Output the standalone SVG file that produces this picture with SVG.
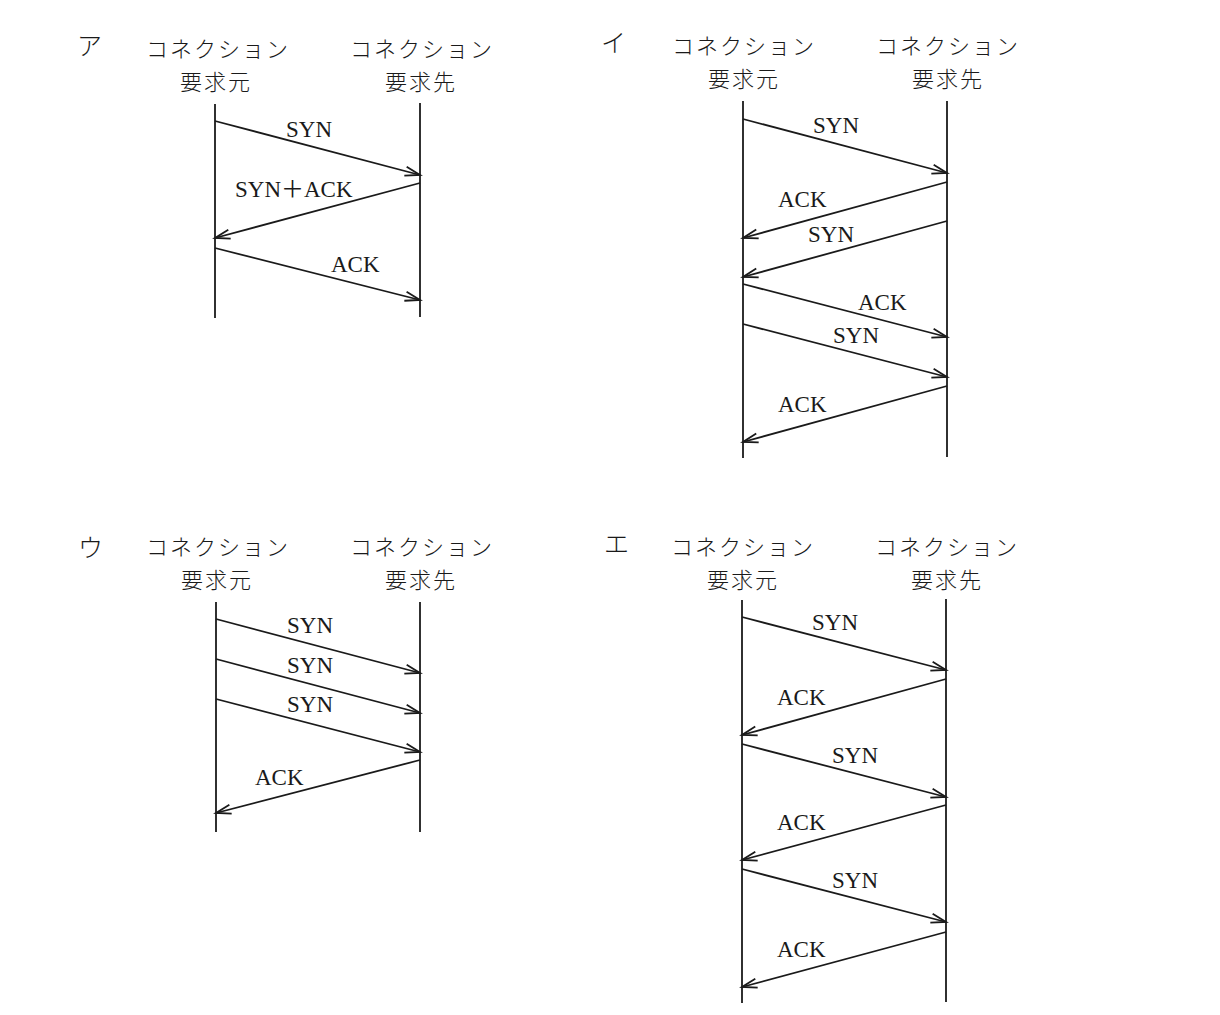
<svg xmlns="http://www.w3.org/2000/svg" width="1220" height="1015" viewBox="0 0 1220 1015">
<style>
.bg{fill:#ffffff}
.life{stroke:#1a1a1a;stroke-width:1.8;fill:none}
.msg{stroke:#1a1a1a;stroke-width:1.8;fill:none;marker-end:url(#arr)}
.hdr{font-family:"Noto Sans CJK JP","Noto Sans CJK SC",sans-serif;font-size:22px;letter-spacing:2px;fill:#1a1a1a;text-anchor:middle;font-weight:300}
.pl{font-family:"Noto Sans CJK JP","Noto Sans CJK SC",sans-serif;font-size:25px;fill:#1a1a1a;font-weight:300}
.lbl{font-family:"Liberation Serif","Noto Sans CJK JP",serif;font-size:23px;fill:#1a1a1a}
</style>
<defs>
<marker id="arr" markerUnits="userSpaceOnUse" viewBox="-17 -6 19 12" refX="0" refY="0" markerWidth="19" markerHeight="12" orient="auto" overflow="visible">
<path d="M -15 -4.6 L 0 0 L -15 4.6" fill="none" stroke="#1a1a1a" stroke-width="1.8"/>
</marker>
</defs>
<rect class="bg" x="0" y="0" width="1220" height="1015"/>

<!-- Panel ア -->
<g id="panel-a">
<text class="pl" x="77" y="55">ア</text>
<g id="a-src"><text class="hdr" x="218" y="57">コネクション</text><text class="hdr" x="216" y="90">要求元</text><line class="life" x1="215" y1="104" x2="215" y2="318"/></g>
<g id="a-dst"><text class="hdr" x="422" y="57">コネクション</text><text class="hdr" x="421" y="90">要求先</text><line class="life" x1="420" y1="103" x2="420" y2="317"/></g>
<g id="a-conn">
<line class="msg" x1="215" y1="121" x2="420" y2="175"/>
<line class="msg" x1="420" y1="183" x2="215" y2="238"/>
<line class="msg" x1="215" y1="248" x2="420" y2="300"/>
</g>
<text class="lbl" x="286" y="137">SYN</text>
<text class="lbl" x="235" y="197">SYN＋ACK</text>
<text class="lbl" x="331" y="272">ACK</text>
</g>

<!-- Panel イ -->
<g id="panel-i">
<text class="pl" x="601" y="52">イ</text>
<g id="i-src"><text class="hdr" x="744" y="54">コネクション</text><text class="hdr" x="744" y="87">要求元</text><line class="life" x1="743" y1="101" x2="743" y2="458"/></g>
<g id="i-dst"><text class="hdr" x="948" y="54">コネクション</text><text class="hdr" x="948" y="87">要求先</text><line class="life" x1="947" y1="101" x2="947" y2="457"/></g>
<g id="i-conn">
<line class="msg" x1="743" y1="119" x2="947" y2="173"/>
<line class="msg" x1="947" y1="182" x2="743" y2="238"/>
<line class="msg" x1="947" y1="221" x2="743" y2="277"/>
<line class="msg" x1="743" y1="284" x2="947" y2="337"/>
<line class="msg" x1="743" y1="324" x2="947" y2="377"/>
<line class="msg" x1="947" y1="386" x2="743" y2="442"/>
</g>
<text class="lbl" x="813" y="133">SYN</text>
<text class="lbl" x="778" y="207">ACK</text>
<text class="lbl" x="808" y="242">SYN</text>
<text class="lbl" x="858" y="310">ACK</text>
<text class="lbl" x="833" y="343">SYN</text>
<text class="lbl" x="778" y="412">ACK</text>
</g>

<!-- Panel ウ -->
<g id="panel-u">
<text class="pl" x="78" y="557">ウ</text>
<g id="u-src"><text class="hdr" x="218" y="555">コネクション</text><text class="hdr" x="217" y="588">要求元</text><line class="life" x1="216" y1="602" x2="216" y2="832"/></g>
<g id="u-dst"><text class="hdr" x="422" y="555">コネクション</text><text class="hdr" x="421" y="588">要求先</text><line class="life" x1="420" y1="602" x2="420" y2="832"/></g>
<g id="u-conn">
<line class="msg" x1="216" y1="619" x2="420" y2="673"/>
<line class="msg" x1="216" y1="659" x2="420" y2="713"/>
<line class="msg" x1="216" y1="699" x2="420" y2="752"/>
<line class="msg" x1="420" y1="760" x2="216" y2="813"/>
</g>
<text class="lbl" x="287" y="633">SYN</text>
<text class="lbl" x="287" y="673">SYN</text>
<text class="lbl" x="287" y="712">SYN</text>
<text class="lbl" x="255" y="785">ACK</text>
</g>

<!-- Panel エ -->
<g id="panel-e">
<text class="pl" x="604" y="553">エ</text>
<g id="e-src"><text class="hdr" x="743" y="555">コネクション</text><text class="hdr" x="743" y="588">要求元</text><line class="life" x1="742" y1="600" x2="742" y2="1003"/></g>
<g id="e-dst"><text class="hdr" x="947" y="555">コネクション</text><text class="hdr" x="947" y="588">要求先</text><line class="life" x1="946" y1="599" x2="946" y2="1002"/></g>
<g id="e-conn">
<line class="msg" x1="742" y1="617" x2="946" y2="670"/>
<line class="msg" x1="946" y1="679" x2="742" y2="735"/>
<line class="msg" x1="742" y1="744" x2="946" y2="797"/>
<line class="msg" x1="946" y1="805" x2="742" y2="860"/>
<line class="msg" x1="742" y1="869" x2="946" y2="922"/>
<line class="msg" x1="946" y1="932" x2="742" y2="987"/>
</g>
<text class="lbl" x="812" y="630">SYN</text>
<text class="lbl" x="777" y="705">ACK</text>
<text class="lbl" x="832" y="763">SYN</text>
<text class="lbl" x="777" y="830">ACK</text>
<text class="lbl" x="832" y="888">SYN</text>
<text class="lbl" x="777" y="957">ACK</text>
</g>
</svg>
